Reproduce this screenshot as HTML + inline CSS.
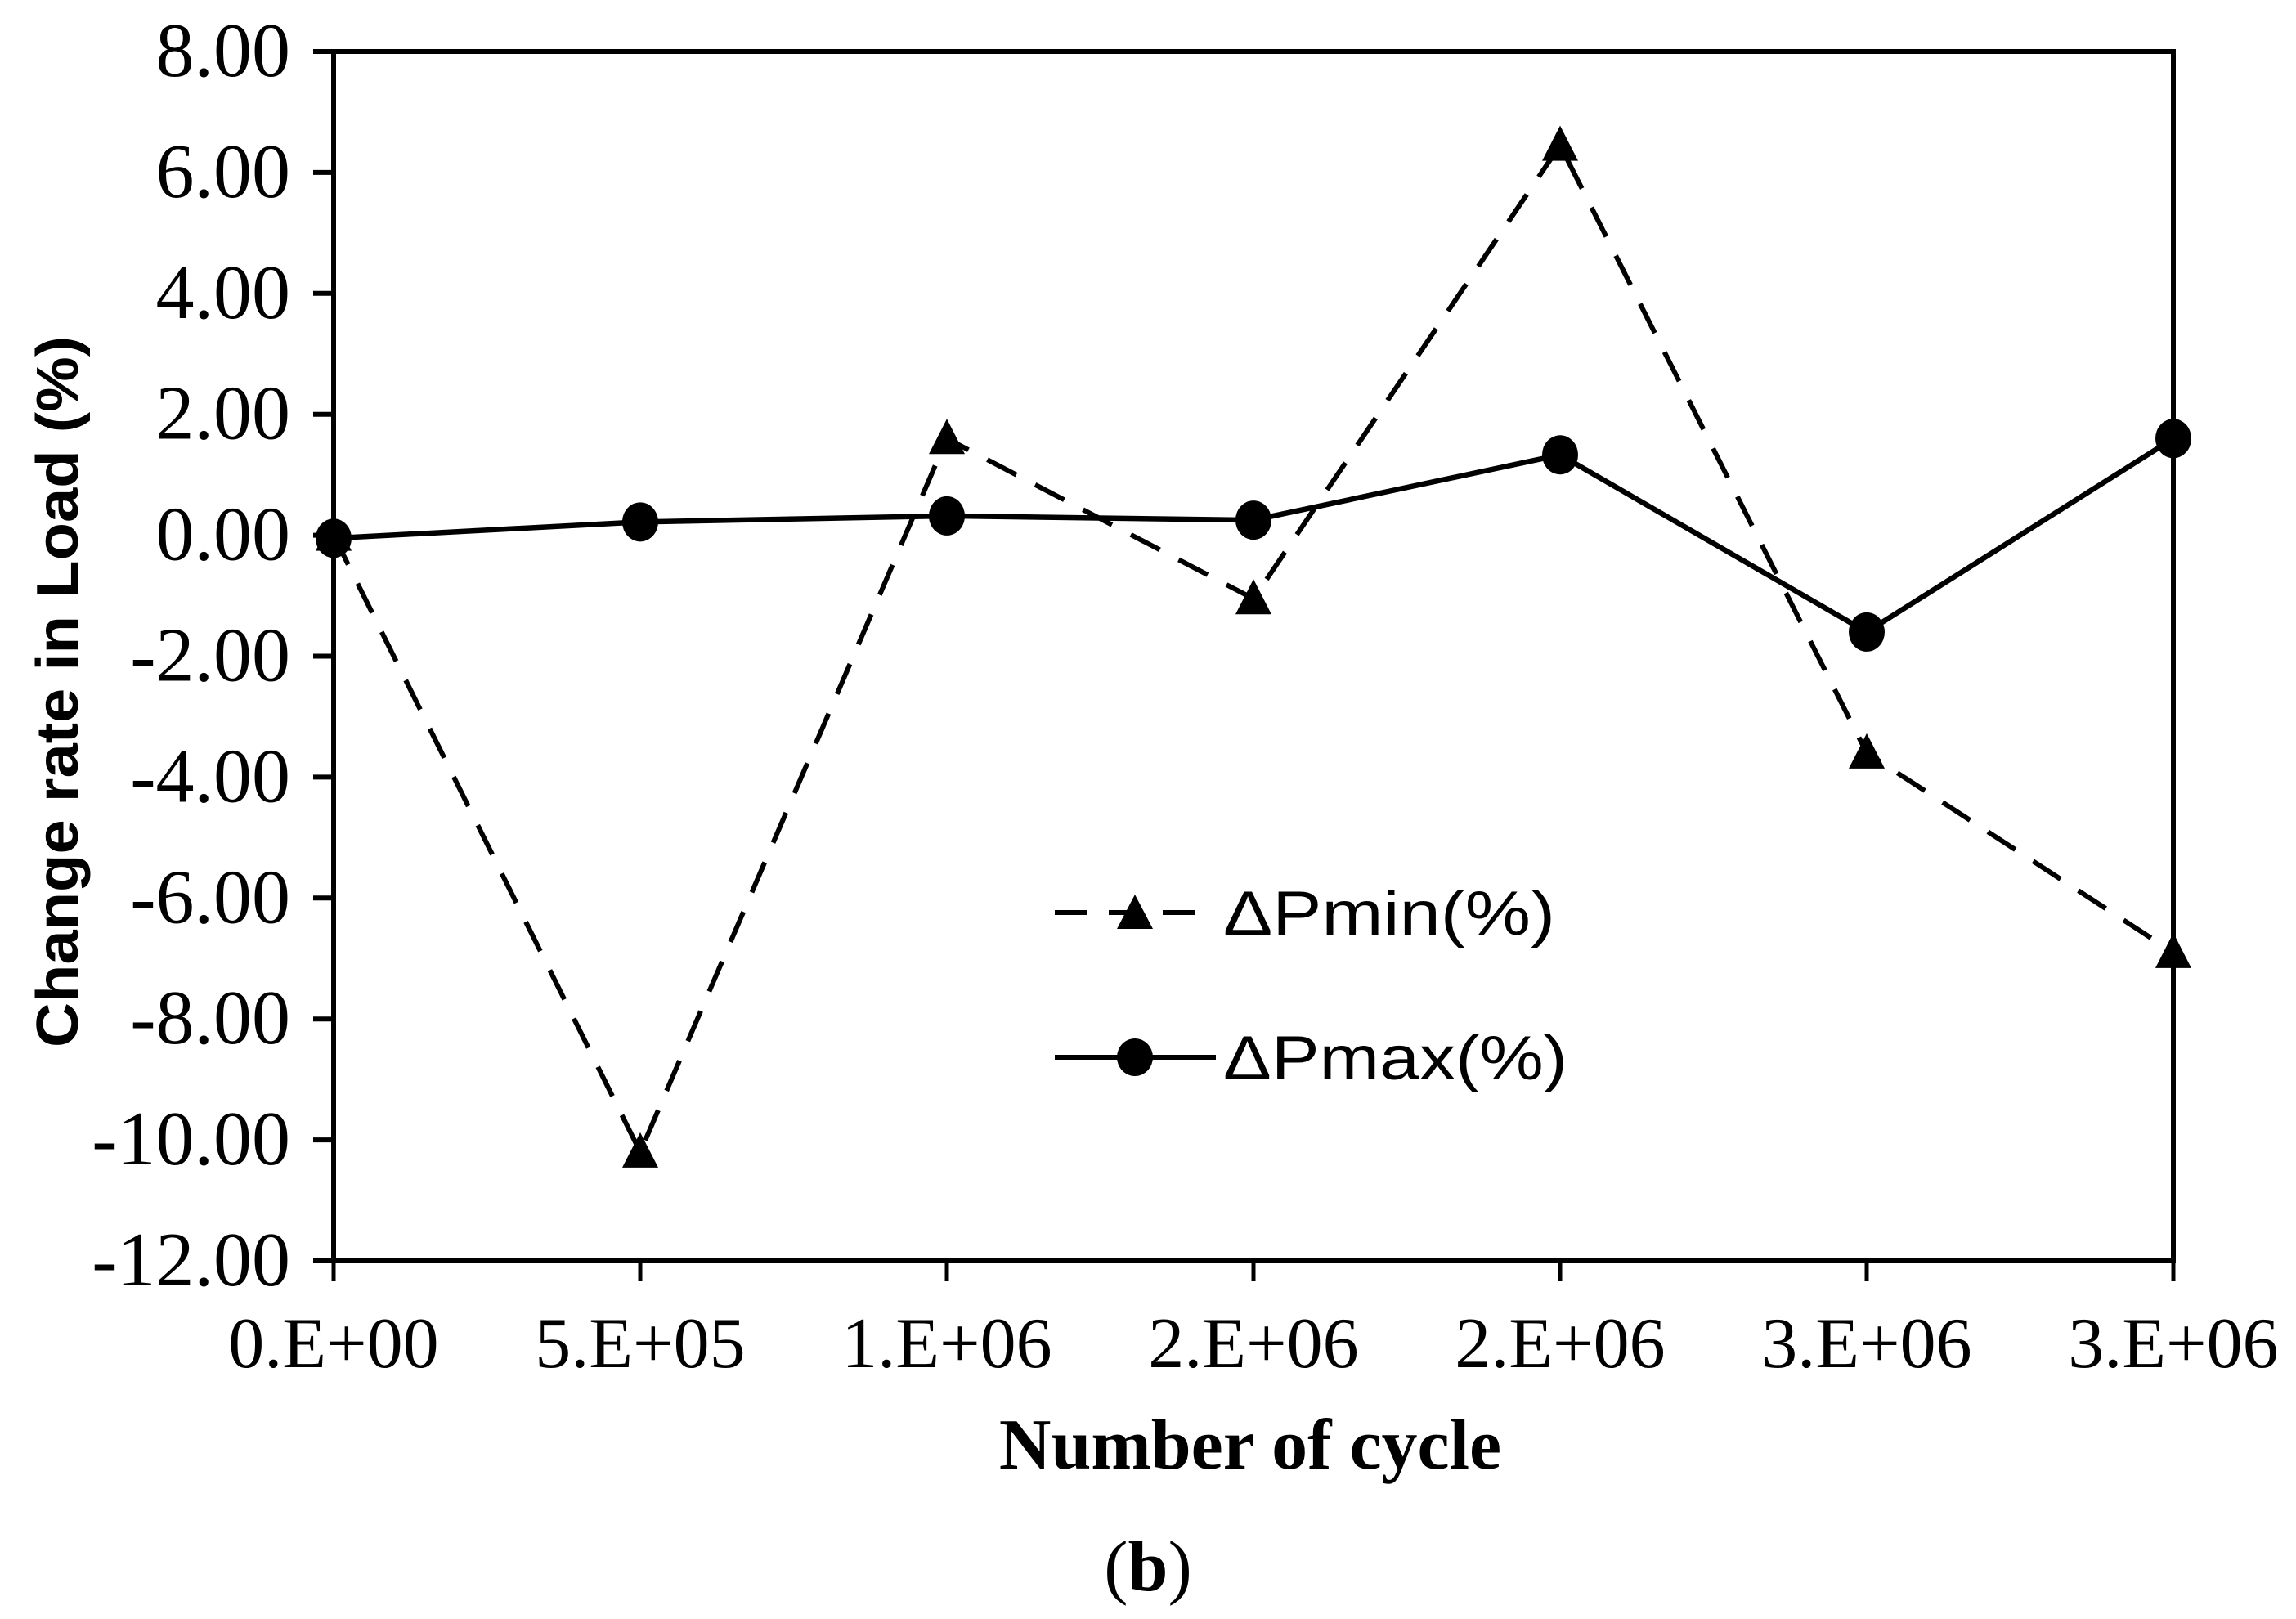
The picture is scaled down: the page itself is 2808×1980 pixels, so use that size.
<!DOCTYPE html>
<html><head><meta charset="utf-8"><style>html,body{margin:0;padding:0;background:#fff}svg{display:block}</style></head>
<body>
<svg id="chart" width="2808" height="1980" viewBox="0 0 2808 1980" xmlns="http://www.w3.org/2000/svg">
<rect x="0" y="0" width="2808" height="1980" fill="#fff"/>
<g id="axes"></g>
<g id="series"></g>
<g id="legend">
  <line x1="1290" y1="1116" x2="1487" y2="1116" stroke="#000" stroke-width="6" stroke-dasharray="40,26"/>
  <polygon points="1388,1094 1410,1136 1366,1136" fill="#000"/>
  <text x="1496" y="1143" font-family="Liberation Sans, sans-serif" font-size="76" textLength="406" lengthAdjust="spacingAndGlyphs">ΔPmin(%)</text>
  <line x1="1290" y1="1293" x2="1487" y2="1293" stroke="#000" stroke-width="6"/>
  <ellipse cx="1388" cy="1293" rx="22" ry="23" fill="#000"/>
  <text x="1496" y="1320" font-family="Liberation Sans, sans-serif" font-size="76" textLength="421" lengthAdjust="spacingAndGlyphs">ΔPmax(%)</text>
</g>
<text x="0" y="0" transform="translate(95,846) rotate(-90)" text-anchor="middle" font-family="Liberation Sans, sans-serif" font-weight="bold" font-size="72" textLength="870" lengthAdjust="spacingAndGlyphs">Change rate in Load (%)</text>
<text x="1529" y="1796" text-anchor="middle" font-family="Liberation Serif, serif" font-weight="bold" font-size="88">Number of cycle</text>
<text x="1404" y="1945" text-anchor="middle" font-family="Liberation Serif, serif" font-size="88">(<tspan font-weight="bold">b</tspan>)</text>
</svg>
<script>
const categories = ["0.E+00","5.E+05","1.E+06","2.E+06","2.E+06","3.E+06","3.E+06"];
const pminValues = [0, -10.2, 1.6, -1.05, 6.45, -3.6, -6.9];
const pmaxValues = [-0.05, 0.22, 0.32, 0.25, 1.33, -1.6, 1.6];
const yTicks = [8, 6, 4, 2, 0, -2, -4, -6, -8, -10, -12];
const yTickLabels = ["8.00","6.00","4.00","2.00","0.00","-2.00","-4.00","-6.00","-8.00","-10.00","-12.00"];

const L = 408, R = 2658, T = 63, B = 1542, yMax = 8, yMin = -12;
const NS = "http://www.w3.org/2000/svg";
function xs(i){ return L + (R - L) * i / (categories.length - 1); }
function ys(v){ return T + (yMax - v) / (yMax - yMin) * (B - T); }
function mk(tag, attrs, parent){
  const e = document.createElementNS(NS, tag);
  for (const k in attrs) e.setAttribute(k, attrs[k]);
  parent.appendChild(e);
  return e;
}
const axes = document.getElementById('axes');
const series = document.getElementById('series');

const frame = mk('rect', {x:L, y:T, width:R-L, height:B-T, fill:'none', stroke:'#000', 'stroke-width':6}, axes);



yTicks.forEach((v, i) => {
  const y = ys(v);
  const t = mk('line', {x1:L-25, y1:y, x2:L, y2:y, stroke:'#000', 'stroke-width':6}, axes);
  
  
  const lb = mk('text', {x:355, y:y+30, 'text-anchor':'end', 'font-family':'Liberation Serif, serif', 'font-size':94}, axes);
  lb.textContent = yTickLabels[i];
  
  
});
categories.forEach((c, i) => {
  const x = xs(i);
  const t = mk('line', {x1:x, y1:B, x2:x, y2:B+25, stroke:'#000', 'stroke-width':5}, axes);
  
  
  const lb = mk('text', {x:x, y:1672, 'text-anchor':'middle', 'font-family':'Liberation Serif, serif', 'font-size':88}, axes);
  lb.textContent = c;
  
  
});

const pminLine = mk('polyline', {points: pminValues.map((v,i)=>xs(i)+','+ys(v)).join(' '), fill:'none', stroke:'#000', 'stroke-width':6, 'stroke-dasharray':'40,26'}, series);


const pmaxLine = mk('polyline', {points: pmaxValues.map((v,i)=>xs(i)+','+ys(v)).join(' '), fill:'none', stroke:'#000', 'stroke-width':6.5}, series);



pminValues.forEach((v, i) => {
  const x = xs(i), y = ys(v);
  const p = mk('polygon', {points: `${x},${y-24} ${x+22},${y+19} ${x-22},${y+19}`, fill:'#000'}, series);
  
  
});
pmaxValues.forEach((v, i) => {
  const c = mk('ellipse', {cx: xs(i), cy: ys(v), rx:22, ry:24, fill:'#000'}, series);
  
  
});
</script>
</body></html>
